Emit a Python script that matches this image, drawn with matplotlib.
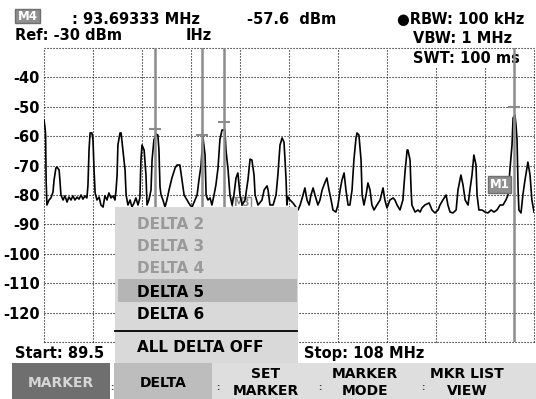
import matplotlib
matplotlib.use('Agg')
import matplotlib.pyplot as plt
import matplotlib.transforms as mtransforms
from matplotlib.patches import Rectangle
import numpy as np

plt.rcParams['font.family'] = ['DejaVu Sans']
plt.rcParams['font.weight'] = 'bold'

W, H = 536, 399

###############################################################################
# Sweep settings and trace
###############################################################################
f_start = 89.5
f_stop = 108.0
ref_level = -30
db_div = 10
n_div = 10

freq = [89.50, 89.54, 89.56, 89.58, 89.61, 89.69, 89.76, 89.84, 89.88, 89.95,
        89.99, 90.07, 90.10, 90.14, 90.22, 90.29, 90.37, 90.44, 90.52, 90.59,
        90.67, 90.75, 90.82, 90.90, 90.97, 91.05, 91.12, 91.16, 91.20, 91.24,
        91.31, 91.35, 91.39, 91.43, 91.50, 91.58, 91.65, 91.73, 91.80, 91.88,
        91.95, 92.03, 92.11, 92.18, 92.22, 92.26, 92.29, 92.37, 92.41, 92.48,
        92.56, 92.60, 92.67, 92.75, 92.82, 92.90, 92.97, 93.05, 93.12, 93.16,
        93.20, 93.28, 93.35, 93.39, 93.46, 93.54, 93.58, 93.65, 93.73, 93.80,
        93.84, 93.88, 93.92, 93.99, 94.07, 94.14, 94.22, 94.33, 94.45, 94.52,
        94.63, 94.71, 94.79, 94.90, 95.01, 95.09, 95.20, 95.28, 95.35, 95.43,
        95.50, 95.58, 95.62, 95.69, 95.77, 95.84, 95.92, 95.99, 96.07, 96.14,
        96.22, 96.33, 96.37, 96.45, 96.52, 96.60, 96.67, 96.75, 96.82, 96.90,
        96.98, 97.09, 97.20, 97.28, 97.35, 97.43, 97.47, 97.58, 97.73, 97.81,
        97.92, 97.96, 98.03, 98.15, 98.26, 98.33, 98.41, 98.49, 98.56, 98.60,
        98.64, 98.67, 98.71, 98.79, 98.90, 99.01, 99.09, 99.17, 99.28, 99.35,
        99.43, 99.51, 99.58, 99.66, 99.73, 99.84, 99.92, 100.00, 100.07, 100.18,
        100.26, 100.34, 100.41, 100.52, 100.60, 100.68, 100.75, 100.83, 100.90, 100.98,
        101.05, 101.13, 101.20, 101.28, 101.32, 101.39, 101.47, 101.51, 101.58, 101.66,
        101.73, 101.81, 101.88, 101.96, 102.07, 102.19, 102.30, 102.37, 102.45, 102.56,
        102.68, 102.75, 102.83, 102.94, 103.05, 103.13, 103.21, 103.24, 103.32, 103.36,
        103.39, 103.51, 103.62, 103.70, 103.77, 103.88, 104.04, 104.15, 104.26, 104.38,
        104.45, 104.56, 104.68, 104.75, 104.83, 104.94, 105.06, 105.13, 105.24, 105.32,
        105.40, 105.51, 105.58, 105.66, 105.73, 105.81, 105.85, 105.92, 106.04, 106.15,
        106.26, 106.38, 106.49, 106.60, 106.72, 106.83, 106.94, 107.02, 107.09, 107.17,
        107.21, 107.28, 107.32, 107.36, 107.40, 107.43, 107.51, 107.58, 107.66, 107.77,
        107.85, 107.92, 108.00]

level = [-54.5, -57.2, -59.6, -74.9, -83.4, -81.7, -81.0, -79.0, -74.9, -70.8,
         -70.5, -71.5, -74.9, -80.0, -81.7, -80.3, -82.4, -80.7, -81.7, -80.3,
         -81.7, -80.7, -81.4, -80.0, -81.4, -80.3, -81.0, -76.6, -64.7, -58.9,
         -58.9, -61.3, -71.5, -79.3, -81.7, -80.7, -83.4, -84.1, -80.3, -81.7,
         -79.3, -81.0, -80.3, -81.7, -78.3, -73.2, -63.0, -58.9, -58.9, -64.7,
         -71.5, -80.0, -83.4, -81.7, -84.1, -82.7, -81.0, -83.4, -81.0, -68.1,
         -63.0, -64.7, -73.2, -83.4, -81.7, -78.3, -68.1, -61.3, -59.3, -59.6,
         -64.7, -77.3, -80.0, -81.7, -84.1, -81.7, -78.3, -74.2, -70.8, -69.8,
         -69.8, -74.9, -80.0, -81.7, -83.4, -84.1, -81.7, -80.0, -74.9, -69.8,
         -60.3, -66.4, -80.0, -81.7, -81.0, -83.4, -80.0, -76.6, -70.8, -61.3,
         -57.9, -57.9, -64.7, -71.5, -80.0, -83.4, -80.0, -74.2, -72.5, -80.0,
         -83.4, -81.7, -74.9, -67.8, -68.1, -73.2, -80.0, -83.4, -81.7, -78.3,
         -76.9, -78.3, -83.4, -83.4, -80.0, -73.2, -63.0, -60.6, -62.0, -68.1,
         -74.9, -83.4, -80.7, -81.7, -82.7, -84.1, -85.1, -83.4, -80.0, -77.6,
         -81.7, -83.4, -80.0, -77.6, -80.0, -83.4, -81.7, -78.3, -76.6, -74.2,
         -78.3, -81.7, -85.1, -85.8, -83.4, -78.3, -74.9, -72.5, -78.3, -83.4,
         -83.4, -78.3, -68.1, -60.6, -58.9, -59.6, -68.1, -80.0, -83.4, -80.0,
         -75.9, -78.3, -83.4, -85.1, -83.4, -81.7, -77.6, -81.7, -84.4, -81.7,
         -81.0, -81.7, -83.4, -85.1, -81.7, -72.2, -64.7, -64.7, -68.1, -78.3,
         -83.4, -85.8, -85.1, -85.8, -84.4, -83.4, -82.7, -85.1, -86.1, -85.1,
         -83.4, -81.7, -80.0, -83.4, -85.8, -86.1, -85.1, -78.3, -73.2, -76.6,
         -81.7, -83.4, -78.3, -73.2, -66.4, -69.8, -80.0, -85.1, -85.1, -85.8,
         -86.1, -85.1, -85.8, -85.1, -83.4, -83.4, -81.7, -80.0, -71.5, -63.0,
         -53.8, -52.8, -56.2, -61.3, -78.3, -85.1, -86.1, -80.0, -74.9, -68.8,
         -73.2, -81.7, -85.8]

# marker positions (MHz) and marker levels (dBm)
mkr_freq = [93.69333, 95.47, 96.30, 107.25]
mkr_level = [-57.6, -59.6, -55.3, -50.0]

ylabel_vals = [-40, -50, -60, -70, -80, -90, -100, -110, -120]

menu_items = ['DELTA 2', 'DELTA 3', 'DELTA 4', 'DELTA 5', 'DELTA 6']
menu_enabled = [False, False, False, True, True]

###############################################################################
# Figure
###############################################################################
fig = plt.figure(figsize=(W / 100, H / 100), dpi=100)
px = mtransforms.Affine2D().scale(1 / W, -1 / H).translate(0, 1) + fig.transFigure

ax = fig.add_axes([44 / W, 1 - 342 / H, 490 / W, 294 / H], zorder=1)
ax.set_xlim(f_start, f_stop)
ax.set_ylim(ref_level - n_div * db_div, ref_level)
for s in ax.spines.values():
    s.set_visible(False)
ax.set_xticks(np.linspace(f_start, f_stop, n_div + 1))
ax.set_xticklabels([])
yt = list(range(ref_level, ref_level - n_div * db_div - 1, -db_div))
ax.set_yticks(yt)
ax.set_yticklabels([str(v) if v in ylabel_vals else '' for v in yt])
ax.tick_params(length=0, pad=3, labelsize=10.5)
ax.grid(True, color='black', lw=0.8, ls=(0, (1, 1.7)), zorder=1)
for gl in ax.get_xgridlines() + ax.get_ygridlines():
    gl.set_clip_on(False)

# trace
ax.plot(freq, level, color='black', lw=1.2, zorder=3)

# markers
for f in mkr_freq:
    ax.axvline(f, color='#8c8c8c', lw=1.8, zorder=4)
ax.plot(mkr_freq, mkr_level, ls='none', marker='_', ms=9, mew=1.5,
        color='#8c8c8c', zorder=4)
ax.text(106.70, -76.4, 'M1', ha='center', va='center', color='white',
        fontsize=8.5, zorder=5,
        bbox=dict(boxstyle='square,pad=0.15', fc='#8f8f8f', ec='#707070', lw=1))
ax.text(96.96, -82.6, 'M3', ha='center', va='center', color='#8a8a8a',
        fontsize=7, zorder=2,
        bbox=dict(boxstyle='square,pad=0.1', fc='white', ec='#8a8a8a', lw=1))

# SWT line sits on top of the grid, under the M1 line
ax.text(413, 63, 'SWT: 100 ms', transform=px, fontsize=10.5, va='baseline',
        zorder=3.5, clip_on=False,
        bbox=dict(boxstyle='square,pad=0.1', fc='white', ec='none'))

###############################################################################
# Overlay: header, menu, softkeys
###############################################################################
ov = fig.add_axes([0, 0, 1, 1], zorder=5)
ov.set_xlim(0, W)
ov.set_ylim(H, 0)
ov.axis('off')
ov.patch.set_alpha(0)

fs = 10.5
ov.add_patch(Rectangle((15, 9), 25, 14, fc='#8f8f8f', ec='#707070', lw=1))
ov.text(27.5, 16.5, 'M4', ha='center', va='center', color='white', fontsize=8.5)
ov.text(72, 24, ': 93.69333 MHz', fontsize=fs, va='baseline')
ov.text(247, 24, '-57.6  dBm', fontsize=fs, va='baseline')
ov.text(397, 24, '\u25cfRBW: 100 kHz', fontsize=fs, va='baseline')
ov.text(15, 40, 'Ref: -30 dBm', fontsize=fs, va='baseline')
ov.text(186, 40, 'IHz', fontsize=fs, va='baseline')
ov.text(413, 43, 'VBW: 1 MHz', fontsize=fs, va='baseline')
ov.text(15, 358, 'Start: 89.5', fontsize=fs, va='baseline')
ov.text(304, 358, 'Stop: 108 MHz', fontsize=fs, va='baseline')

# popup menu
ov.add_patch(Rectangle((115, 207), 183, 156, fc='#d9d9d9', ec='none'))
ov.add_patch(Rectangle((118, 279), 179, 23, fc='#b5b5b5', ec='none'))
item_base = [229, 251, 273, 297, 319]
for txt, en, yb in zip(menu_items, menu_enabled, item_base):
    ov.text(137, yb, txt, fontsize=11, va='baseline',
            color='black' if en else '#9a9a9a')
ov.plot([115, 297], [331, 331], color='black', lw=1.3)
ov.text(137, 352, 'ALL DELTA OFF', fontsize=11, va='baseline')

# softkey bar
ov.add_patch(Rectangle((212, 363), 324, 36, fc='#dedede', ec='none'))
ov.add_patch(Rectangle((12, 363), 98, 36, fc='#6f6f6f', ec='none'))
ov.add_patch(Rectangle((114, 363), 98, 36, fc='#bdbdbd', ec='none'))
ov.text(61, 387, 'MARKER', ha='center', va='baseline', fontsize=10, color='#d6d6d6')
ov.text(163, 387, 'DELTA', ha='center', va='baseline', fontsize=10)
keys = [(266, 'SET', 'MARKER'), (365, 'MARKER', 'MODE'), (467, 'MKR LIST', 'VIEW')]
for xc, l1, l2 in keys:
    ov.text(xc, 378, l1, ha='center', va='baseline', fontsize=10)
    ov.text(xc, 395, l2, ha='center', va='baseline', fontsize=10)
for xs in [112, 218, 320, 423]:
    ov.text(xs, 388, ':', ha='center', va='center', fontsize=6, color='#444444')

fig.savefig('out.png', dpi=100)
